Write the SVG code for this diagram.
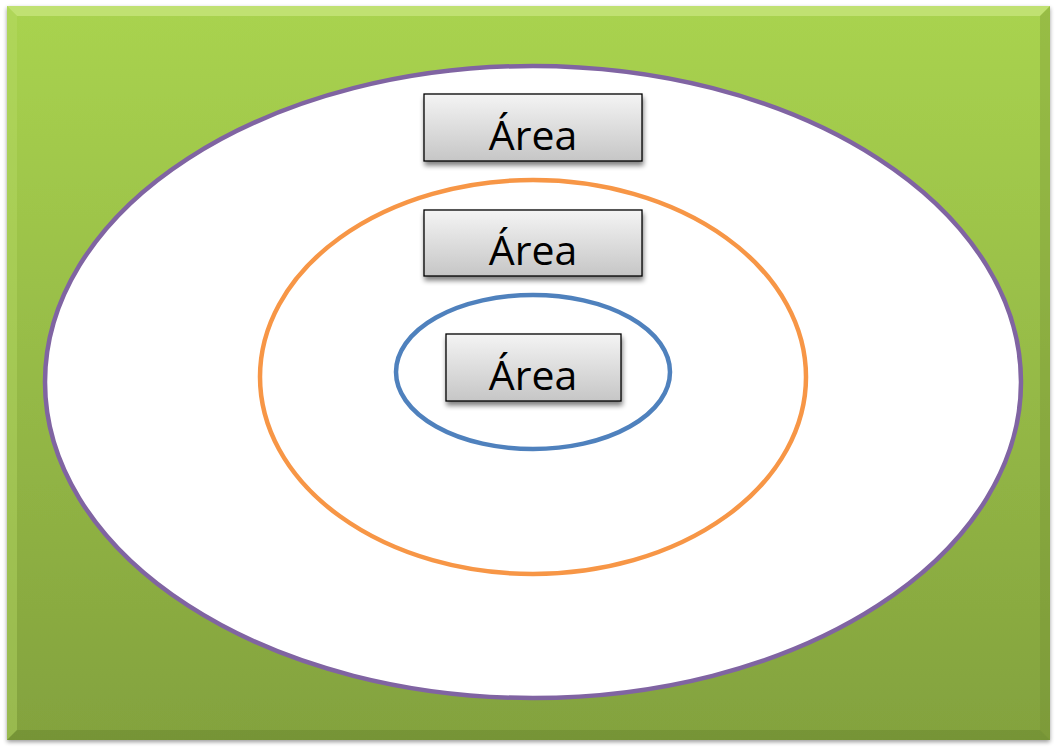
<svg xmlns="http://www.w3.org/2000/svg" width="1056" height="747" viewBox="0 0 1056 747">
<style>
.box{fill:url(#boxg);stroke:#000;stroke-width:1.3;filter:url(#sh)}
.lbl{font-family:"Open Sans","Liberation Sans",sans-serif;font-size:41px;fill:#000;text-anchor:middle}
.ring{fill:none;stroke-width:4.5}
</style>
<defs>
<linearGradient id="bg" x1="0" y1="0" x2="0" y2="1">
<stop offset="0" stop-color="#a9d34f"/>
<stop offset="1" stop-color="#83a23e"/>
</linearGradient>
<linearGradient id="boxg" x1="0" y1="0" x2="0" y2="1">
<stop offset="0" stop-color="#f4f4f4"/>
<stop offset="1" stop-color="#c6c6c6"/>
</linearGradient>
<filter id="sh" x="-10%" y="-10%" width="125%" height="140%">
<feGaussianBlur in="SourceAlpha" stdDeviation="2.5"/>
<feOffset dx="1" dy="4" result="b"/>
<feComponentTransfer><feFuncA type="linear" slope="0.5"/></feComponentTransfer>
<feMerge><feMergeNode/><feMergeNode in="SourceGraphic"/></feMerge>
</filter>
<filter id="sh2" x="-5%" y="-5%" width="110%" height="110%">
<feGaussianBlur in="SourceAlpha" stdDeviation="2"/>
<feOffset dx="0" dy="2"/>
<feComponentTransfer><feFuncA type="linear" slope="0.4"/></feComponentTransfer>
<feMerge><feMergeNode/><feMergeNode in="SourceGraphic"/></feMerge>
</filter>
</defs>
<rect width="1056" height="747" fill="#fff"/>
<g id="background">
<rect x="7" y="6" width="1043" height="734" fill="url(#bg)" filter="url(#sh2)"/>
<polygon points="7,6 1050,6 1040,16 17,16" fill="#d4ec90" opacity="0.55"/>
<polygon points="7,6 17,16 17,730 7,740" fill="#b8dc6a" opacity="0.4"/>
<polygon points="1050,6 1050,740 1040,730 1040,16" fill="#6f8a32" opacity="0.3"/>
<polygon points="7,740 17,730 1040,730 1050,740" fill="#5f7a2a" opacity="0.35"/>
</g>
<g id="rings">
<ellipse id="outer" class="ring" cx="533" cy="382" rx="488" ry="316" stroke="#8064a2" style="fill:#fff"/>
<ellipse id="middle" class="ring" cx="533" cy="377" rx="273" ry="197" stroke="#f79646"/>
<ellipse id="inner" class="ring" cx="533" cy="372" rx="137" ry="77" stroke="#4f81bd"/>
</g>
<g id="node1">
<rect class="box" x="424" y="94" width="218" height="67"/>
<text class="lbl" x="533" y="150">Área</text>
</g>
<g id="node2">
<rect class="box" x="424" y="210" width="218" height="66"/>
<text class="lbl" x="533" y="265">Área</text>
</g>
<g id="node3">
<rect class="box" x="446" y="334" width="175" height="67"/>
<text class="lbl" x="533" y="390">Área</text>
</g>
</svg>
